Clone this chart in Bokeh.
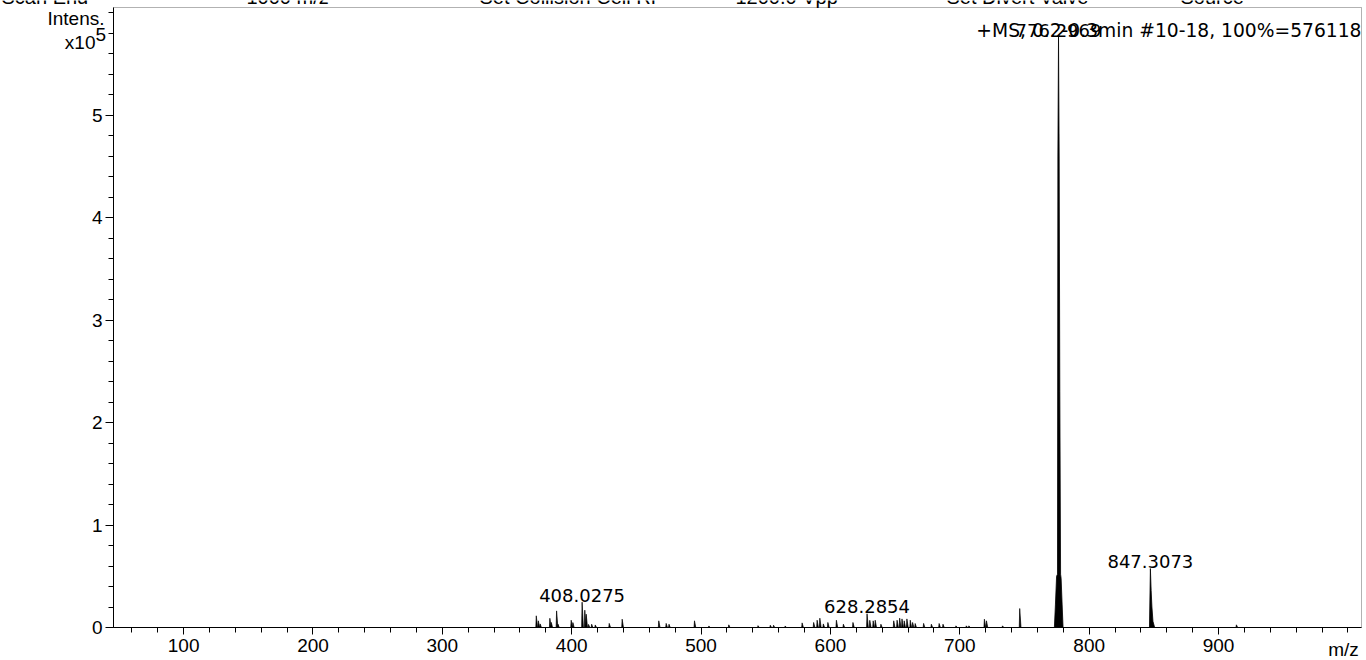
import numpy as np
from bokeh.plotting import figure
from bokeh.models import (FixedTicker, Label, CustomJSTickFormatter, Range1d,
                          LinearAxis, BoxAnnotation)
from bokeh.embed import file_html
from bokeh.resources import INLINE

# ---- spectrum data -------------------------------------------------------
# minor centroid peaks: m/z and intensity (counts)
peak_mz = [372.6, 374.2, 375.6, 383.1, 384.2, 388.3, 389.4, 399.6, 400.9,
           408.0275, 410.1, 411.2, 413.0, 415.4, 418.2, 429.0, 439.0, 467.3,
           473.0, 475.2, 494.9, 506.0, 521.4, 544.0, 553.5, 556.0, 565.0,
           578.1, 587.0, 589.7, 591.8, 594.5, 598.0, 604.6, 610.0, 617.4,
           628.2854, 630.4, 633.0, 634.6, 639.0, 648.9, 651.5, 653.5, 655.3,
           657.0, 659.1, 661.7, 663.5, 665.5, 672.0, 678.0, 684.0, 687.0,
           697.0, 705.0, 707.0, 719.0, 720.6, 733.0, 746.3, 913.8]
peak_int = [11400, 6500, 3500, 9000, 5000, 16200, 3200, 7100, 4800,
            24700, 16900, 13000, 3000, 3200, 2500, 4000, 8100, 6500,
            4000, 3200, 6500, 1500, 2600, 1800, 2200, 2200, 1500,
            4500, 4900, 7100, 9100, 3500, 4900, 7100, 3200, 4900,
            13400, 7000, 6500, 7100, 3200, 6500, 7100, 9100, 8400,
            6500, 8400, 7100, 4900, 3900, 4000, 3200, 3900, 3200,
            1600, 1600, 1600, 8100, 6500, 1600, 18500, 2600]

# profile of the base peak cluster
base_mz = [773.1, 773.9, 774.8, 775.5, 775.8, 776.2969, 776.8, 777.3,
           777.9, 778.3, 779.1, 779.8]
base_int = [0, 22000, 50000, 52000, 460000, 576118, 460000, 230000,
            52000, 48000, 22000, 0]

# profile of the 847 ion
ion_mz = [846.6, 847.3073, 847.9, 848.5, 849.3, 850.6]
ion_int = [0, 57500, 36000, 20000, 6000, 0]

# annotated peaks
label_mz = [408.0275, 628.2854, 776.2969, 847.3073]
label_int = [24700, 13400, 576118, 57500]

x_major = [100, 200, 300, 400, 500, 600, 700, 800, 900]
y_major = [0, 100000, 200000, 300000, 400000, 500000]

x_start, x_end = 45.8, 1010.5
y_end = 576118 * 1.05

# ---- page geometry (pixels) ----------------------------------------------
W, H = 1366, 660
box_l, box_r, box_t, box_b = 113, 1361, 7, 627   # plotting box inside the canvas

kx = (x_end - x_start) / (box_r - box_l)
ky = y_end / (box_b - box_t)
x_range = Range1d(x_start - box_l * kx, x_end + (W - box_r) * kx)
y_range = Range1d(-(H - box_b) * ky, y_end + box_t * ky)

p = figure(width=W, height=H, output_backend="svg", toolbar_location=None,
           x_range=x_range, y_range=y_range, x_axis_type=None, y_axis_type=None,
           min_border=0, background_fill_color="white", border_fill_color="white")
p.grid.visible = False
p.outline_line_color = None

# frame around the plotting box
p.add_layout(BoxAnnotation(left=x_start, right=x_end, bottom=0, top=y_end,
                           fill_color=None, line_color="black", line_width=1))

# small peaks drawn as narrow, right-tailed triangles
lw, rw = 0.35, 1.0
xs = [[m - lw, m, m + rw] for m in peak_mz]
ys = [[0, v, 0] for v in peak_int]
p.patches(xs, ys, fill_color="black", line_color="black", line_width=0.7)
p.patch(base_mz, base_int, fill_color="black", line_color="black", line_width=0.8)
p.patch(ion_mz, ion_int, fill_color="black", line_color="black", line_width=0.8)

# axes pinned to the edges of the plotting box
tick_font = "Liberation Sans"
xaxis = LinearAxis(fixed_location=0, bounds=(x_start, x_end),
                   ticker=FixedTicker(ticks=x_major,
                                      minor_ticks=list(np.arange(60, 1001, 20))))
yaxis = LinearAxis(fixed_location=x_start, bounds=(0, y_end),
                   ticker=FixedTicker(ticks=y_major,
                                      minor_ticks=list(np.arange(0, 600001, 20000))),
                   formatter=CustomJSTickFormatter(code="return (tick / 1e5).toFixed(0);"))
for ax in (xaxis, yaxis):
    ax.axis_line_color = "black"
    ax.major_tick_line_color = "black"
    ax.minor_tick_line_color = "black"
    ax.major_tick_in = 0
    ax.minor_tick_in = 0
    ax.major_label_text_font = tick_font
    ax.major_label_text_font_size = "19px"
    ax.major_label_text_color = "black"
xaxis.major_tick_out = 7
xaxis.minor_tick_out = 5
xaxis.major_label_standoff = 4
yaxis.major_tick_out = 8
yaxis.minor_tick_out = 5
yaxis.major_label_standoff = 3
p.add_layout(xaxis, "below")
p.add_layout(yaxis, "left")

# peak annotations
ann_font = "DejaVu Sans"
for m, v in zip(label_mz, label_int):
    p.add_layout(Label(x=m, y=v, y_offset=7, text=f"{m:.4f}", text_align="center",
                       text_baseline="alphabetic", text_font=ann_font,
                       text_font_size="18px", text_color="black"))

p.add_layout(Label(x=x_end, y=y_end, y_offset=-23,
                   text="+MS, 0.2-0.3min #10-18, 100%=576118",
                   text_align="right", text_baseline="alphabetic",
                   text_font=ann_font, text_font_size="18.7px", text_color="black"))


def canvas_label(text, px, py, align="left", size="19px", font=tick_font):
    # px, py: pixel position from the canvas top-left corner
    p.add_layout(Label(x=px, y=H - py, x_units="screen", y_units="screen",
                       text=text, text_align=align, text_baseline="alphabetic",
                       text_font=font, text_font_size=size, text_color="black"))


# axis captions
canvas_label("Intens.", 104, 18, "right")
canvas_label("x10", 95, 42, "right")
canvas_label("5", 95, 34, "left")
canvas_label("m/z", 1343, 649, "center")

# acquisition parameters row along the top edge
header_text = ["Scan End", "1000 m/z", "Set Collision Cell RF", "1200.0 Vpp",
               "Set Divert Valve", "Source"]
header_px = [1, 246, 479, 735, 946, 1180]
for t, px in zip(header_text, header_px):
    canvas_label(t, px, -4, "left", size="20px")

open("out.html", "w").write(file_html(p, INLINE))
